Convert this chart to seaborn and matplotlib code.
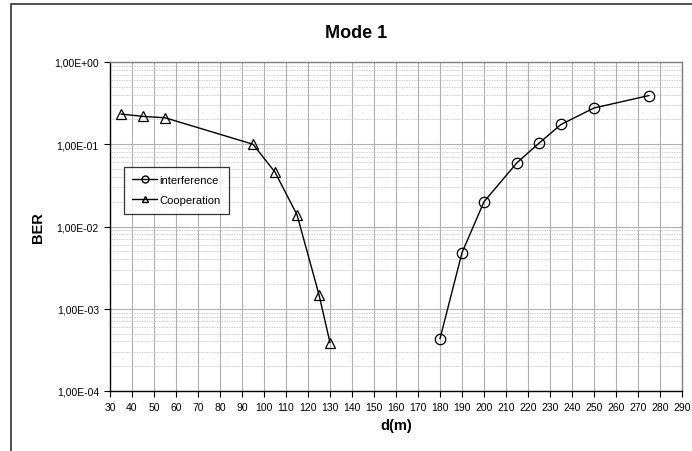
import matplotlib
matplotlib.use("Agg")
import matplotlib.pyplot as plt
import seaborn as sns
import pandas as pd
import numpy as np
from matplotlib.lines import Line2D
from matplotlib.patches import Rectangle
from matplotlib.ticker import LogLocator, NullFormatter

# Data
coop_d = [35, 45, 55, 95, 105, 115, 125, 130]
coop_ber = [0.233, 0.218, 0.21, 0.10, 0.0458, 0.0139, 0.00148, 0.000387]
intf_d = [180, 190, 200, 215, 225, 235, 250, 275]
intf_ber = [0.000433, 0.0048, 0.020, 0.0597, 0.103, 0.174, 0.276, 0.391]
x_ticks = list(range(30, 291, 10))
y_ticks = [1e-4, 1e-3, 1e-2, 1e-1, 1e0]
y_tick_labels = ["1,00E-04", "1,00E-03", "1,00E-02", "1,00E-01", "1,00E+00"]

sns.set_theme(style="white")
plt.rcParams['font.family'] = ['Liberation Sans', 'DejaVu Sans']
plt.rcParams['text.color'] = 'black'
plt.rcParams['axes.labelcolor'] = 'black'
plt.rcParams['xtick.color'] = 'black'
plt.rcParams['ytick.color'] = 'black'

fig = plt.figure(figsize=(6.92, 4.52), dpi=100)
ax = fig.add_axes([110/692, 1-392/452, (682-110)/692, (392-63)/452])

df_c = pd.DataFrame({"d": coop_d, "BER": coop_ber})
df_i = pd.DataFrame({"d": intf_d, "BER": intf_ber})

sns.lineplot(data=df_c, x="d", y="BER", ax=ax, color="black", lw=1,
             marker="^", markersize=7.5, markerfacecolor="none",
             markeredgecolor="black", markeredgewidth=0.9, zorder=5)
sns.lineplot(data=df_i, x="d", y="BER", ax=ax, color="black", lw=1,
             marker="o", markersize=7.5, markerfacecolor="none",
             markeredgecolor="black", markeredgewidth=0.9, zorder=5)

ax.set_yscale("log")
ax.set_xlim(30, 290)
ax.set_ylim(1e-4, 1e0)
ax.set_xticks(x_ticks)
ax.set_xticklabels([str(v) for v in x_ticks])
ax.set_yticks(y_ticks)
ax.set_yticklabels(y_tick_labels)
ax.yaxis.set_minor_locator(LogLocator(base=10, subs=np.arange(2, 10), numticks=20))
ax.yaxis.set_minor_formatter(NullFormatter())

ax.grid(True, which="major", axis="both", color="#b0b0b0", lw=0.8)
ax.grid(True, which="minor", axis="y", color="#bcbcbc", lw=0.6, linestyle=(0, (1, 1)))
ax.set_axisbelow(True)

ax.tick_params(axis="both", which="major", direction="out", length=4, width=0.8,
               color="black", labelcolor="black", labelsize=7.5, pad=4,
               bottom=True, left=True)
ax.tick_params(axis="y", which="minor", length=0, left=False)

for s in ["left", "bottom"]:
    ax.spines[s].set_color("black")
    ax.spines[s].set_linewidth(1.0)
for s in ["top", "right"]:
    ax.spines[s].set_color("#808080")
    ax.spines[s].set_linewidth(1.0)

ax.set_xlabel("d(m)", fontsize=10.5, fontweight="bold", labelpad=4, color="black")
ax.set_ylabel("BER", fontsize=10.5, fontweight="bold", color="black")
ax.yaxis.set_label_coords((45-110)/572, 0.5)
fig.text(356/692, 1-33/452, "Mode 1", ha="center", va="center", fontsize=13,
         fontweight="bold", color="black")

handles = [
    Line2D([0], [0], color="black", lw=1, marker="o", markersize=5,
           markerfacecolor="none", markeredgecolor="black"),
    Line2D([0], [0], color="black", lw=1, marker="^", markersize=5,
           markerfacecolor="none", markeredgecolor="black"),
]
leg = ax.legend(handles, ["interference", "Cooperation"], loc="upper left",
                bbox_to_anchor=((124-110)/572, 1-(168-63)/329), fontsize=8,
                frameon=True, fancybox=False, edgecolor="black",
                handlelength=2.2, handletextpad=0.2, labelspacing=0.9,
                borderpad=0.75, borderaxespad=0)
leg.get_frame().set_linewidth(0.9)
for t in leg.get_texts():
    t.set_color("black")

# chart border (top and left visible)
fig.patches.append(Rectangle((10.5/692, -0.1), 1.2, 1 - 4.5/452 + 0.1,
                             transform=fig.transFigure, fill=False,
                             edgecolor="#333333", lw=1.2))

fig.savefig("out.png", dpi=100)
